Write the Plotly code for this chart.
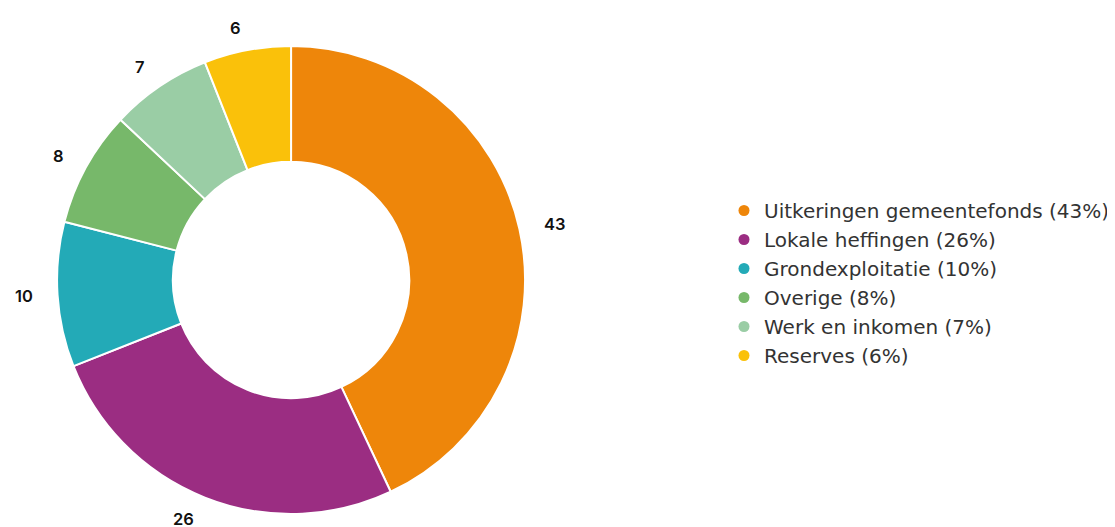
import math
import plotly.graph_objects as go

categories = ["Uitkeringen gemeentefonds", "Lokale heffingen", "Grondexploitatie",
              "Overige", "Werk en inkomen", "Reserves"]
values = [43, 26, 10, 8, 7, 6]
colors = ["#EE860A", "#9B2D82", "#23AAB7", "#77B86A", "#9ACDA5", "#FAC10A"]

# page body adds an 8px offset, so the figure is sized to fit the window
W, H = 1107, 519
ML, MR, MT, MB = 0, 0, 38, 13
PW, PH = W - ML - MR, H - MT - MB
dom_x = [0.0407, 0.4707]
FONT = "Inter"

fig = go.Figure()
fig.add_trace(go.Pie(
    labels=categories, values=values, sort=False, direction="clockwise",
    rotation=0, hole=0.505, textinfo="none", hoverinfo="label+value",
    marker=dict(colors=colors, line=dict(color="white", width=2)),
    domain=dict(x=dom_x, y=[0, 1]), showlegend=False,
))

# legend entries with circle markers
total = sum(values)
for cat, v, c in zip(categories, values, colors):
    fig.add_trace(go.Scatter(
        x=[None], y=[None], mode="markers", name=f"{cat} ({round(100*v/total)}%)",
        marker=dict(color=c, size=11, symbol="circle"), showlegend=True,
    ))

# value labels outside the slices, aligned away from the ring
cx = (dom_x[0] + dom_x[1]) / 2 * PW
cy = PH / 2
R = min((dom_x[1] - dom_x[0]) * PW, PH) / 2
d = R + 23
cum = 0
for v in values:
    mid = (cum + v / 2) / total * 2 * math.pi
    cum += v
    s, c = math.sin(mid), math.cos(mid)
    x = (cx + d * s) / PW
    y = (cy + d * c) / PH
    fig.add_annotation(x=x, y=y, xref="paper", yref="paper", text=str(v),
                       showarrow=False, xanchor="left" if s > 0 else "right",
                       yanchor="middle",
                       font=dict(family=FONT, size=16.5, color="#111111", weight=600))

fig.update_layout(
    width=W, height=H, margin=dict(l=ML, r=MR, t=MT, b=MB),
    paper_bgcolor="white", plot_bgcolor="white",
    xaxis=dict(visible=False), yaxis=dict(visible=False),
    legend=dict(x=0.647, y=0.4936, xanchor="left", yanchor="middle",
                font=dict(family="DejaVu Sans", size=20, color="#333333"),
                itemclick=False, itemdoubleclick=False, tracegroupgap=0),
    font=dict(family=FONT),
)

fig.write_html("out.html")
